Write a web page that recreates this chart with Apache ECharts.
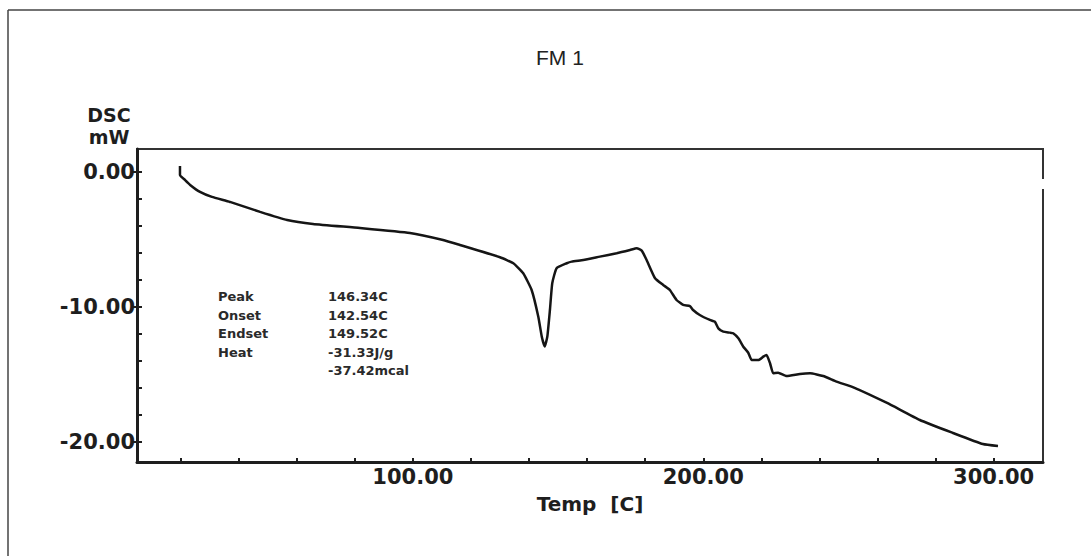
<!DOCTYPE html>
<html>
<head>
<meta charset="utf-8">
<script src="https://cdn.jsdelivr.net/npm/echarts@6/dist/echarts.min.js"></script>
<style>
html,body{margin:0;padding:0;background:#fff;}
#chart{width:1091px;height:556px;}
</style>
</head>
<body>
<div id="chart"></div>
<script>
// ---- data ----
var chartTitle = 'FM 1';
var xAxisTitle = 'Temp  [C]';
var yAxisTitle = 'DSC\nmW';
var tempC = [19.8, 19.8, 21.5, 23.3, 26.7, 30.8, 37.0, 47.4, 56.7, 65.6, 81.8, 99.0, 110.4, 116.2,
  130.0, 134.6, 138.0, 140.9, 143.2, 144.4, 145.4, 146.3, 147.2, 148.0, 149.5, 153.0, 154.7, 158.7,
  164.4, 170.2, 174.8, 177.1, 178.8, 180.5, 183.4, 186.2, 188.5, 190.8, 193.1, 195.4, 196.5, 198.8,
  202.3, 204.0, 205.2, 206.9, 209.2, 210.3, 212.1, 213.8, 215.5, 216.7, 219.0, 220.7, 221.8, 223.0,
  224.1, 225.8, 228.7, 233.3, 236.8, 241.3, 245.9, 251.7, 263.3, 274.6, 286.0, 296.3, 301.5];
var dscMW = [0.44, -0.22, -0.59, -0.96, -1.48, -1.85, -2.22, -2.96, -3.56, -3.85, -4.15, -4.52, -5.04, -5.41,
  -6.32, -6.76, -7.50, -8.74, -10.72, -12.20, -12.92, -12.20, -10.22, -8.24, -7.13, -6.76, -6.64, -6.52,
  -6.27, -6.02, -5.78, -5.65, -5.83, -6.52, -7.87, -8.37, -8.74, -9.48, -9.85, -9.93, -10.22, -10.59,
  -10.96, -11.09, -11.58, -11.83, -11.90, -11.95, -12.32, -12.94, -13.39, -13.93, -13.93, -13.68, -13.56, -14.17,
  -14.91, -14.87, -15.11, -14.96, -14.91, -15.11, -15.53, -15.95, -17.11, -18.37, -19.33, -20.15, -20.30];
var xTickValues = [20, 40, 60, 80, 100, 120, 140, 160, 180, 200, 220, 240, 260, 280, 300];
var xLabelValues = [100, 200, 300];
var yTickValues = [0, -2, -4, -6, -8, -10, -12, -14, -16, -18, -20];
var yLabelValues = [0, -10, -20];
var annoNames = ['Peak', 'Onset', 'Endset', 'Heat', ''];
var annoValues = ['146.34C', '142.54C', '149.52C', '-31.33J/g', '-37.42mcal'];

var seriesData = tempC.map(function (t, i) { return [t, dscMW[i]]; });

var ink = '#1e1e1e';
var boldFont = 'DejaVu Sans';
var xMin = 5, xMax = 317, yMin = -21.48, yMax = 1.7;

var graphics = [
  { type: 'line', shape: { x1: 8, y1: 10, x2: 1091, y2: 10 }, style: { stroke: '#444', lineWidth: 1.5 } },
  { type: 'line', shape: { x1: 8, y1: 10, x2: 8, y2: 556 }, style: { stroke: '#444', lineWidth: 1.5 } },
  { type: 'rect', shape: { x: 1038, y: 179, width: 10, height: 10 }, style: { fill: '#fff' }, z: 100 }
];
annoNames.forEach(function (n, i) {
  var top = 290 + i * 18.5;
  if (n) {
    graphics.push({ type: 'text', left: 218, top: top, z: 50,
      style: { text: n, fill: '#2a2a2a', font: 'bold 13px "DejaVu Sans"' } });
  }
  graphics.push({ type: 'text', left: 328, top: top, z: 50,
    style: { text: annoValues[i], fill: '#2a2a2a', font: 'bold 13px "DejaVu Sans"' } });
});

var chart = echarts.init(document.getElementById('chart'), null, { renderer: 'svg' });
chart.setOption({
  animation: false,
  backgroundColor: '#fff',
  title: {
    text: chartTitle,
    left: 531, top: 42,
    textStyle: { fontFamily: 'Liberation Sans', fontWeight: 'normal', fontSize: 21, color: '#222' }
  },
  grid: {
    left: 137, top: 149, right: 48, bottom: 94,
    show: true, borderColor: '#333', borderWidth: 2, backgroundColor: 'transparent'
  },
  xAxis: {
    type: 'value', min: xMin, max: xMax,
    name: xAxisTitle, nameLocation: 'middle', nameGap: 32,
    nameTextStyle: { fontFamily: boldFont, fontWeight: 'bold', fontSize: 20, color: ink },
    axisLine: { show: true, onZero: false, lineStyle: { color: ink, width: 3 } },
    axisTick: { show: true, inside: true, length: 4, customValues: xTickValues, lineStyle: { color: ink, width: 2 } },
    axisLabel: {
      customValues: xLabelValues, margin: 4,
      fontFamily: boldFont, fontWeight: 'bold', fontSize: 21, color: ink,
      formatter: function (v) { return v.toFixed(2); }
    },
    splitLine: { show: false }
  },
  yAxis: [{
    type: 'value', min: yMin, max: yMax,
    name: yAxisTitle, nameLocation: 'end', nameGap: 1,
    nameTextStyle: { fontFamily: boldFont, fontWeight: 'bold', fontSize: 19, lineHeight: 22,
      color: ink, align: 'center', verticalAlign: 'bottom', padding: [0, 56, 0, 0] },
    axisLine: { show: true, onZero: false, lineStyle: { color: ink, width: 3 } },
    axisTick: { show: true, inside: true, length: 5, customValues: yTickValues, lineStyle: { color: ink, width: 2 } },
    axisLabel: {
      customValues: yLabelValues, margin: 2,
      fontFamily: boldFont, fontWeight: 'bold', fontSize: 21, color: ink,
      formatter: function (v) { return v.toFixed(2); }
    },
    splitLine: { show: false }
  }, {
    type: 'value', min: yMin, max: yMax, position: 'left',
    axisLine: { show: false },
    axisTick: { show: true, inside: false, length: 6, customValues: yLabelValues, lineStyle: { color: ink, width: 2 } },
    axisLabel: { show: false },
    splitLine: { show: false }
  }],
  graphic: graphics,
  series: [{
    type: 'line',
    data: seriesData,
    showSymbol: false,
    smooth: 0.15,
    lineStyle: { color: '#151515', width: 2.5 },
    z: 10
  }]
});
</script>
</body>
</html>
